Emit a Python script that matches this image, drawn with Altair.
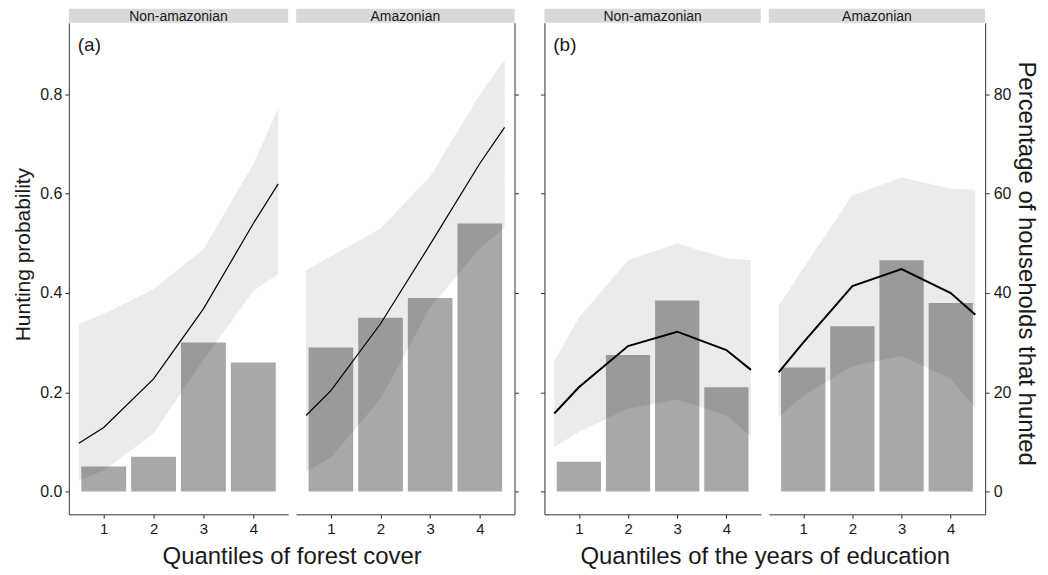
import altair as alt
import pandas as pd

FONT = "Liberation Sans"

# ---------------- data ----------------
QUANTILES = [1, 2, 3, 4]
X_POS = [0.5, 1, 2, 3, 4, 4.5]          # points of the fitted curve / ribbon

# (a) forest cover, Non-amazonian
A_NON_BARS = [0.05, 0.07, 0.30, 0.26]
A_NON_FIT = [0.097, 0.129, 0.227, 0.368, 0.54, 0.62]
A_NON_LO = [0.022, 0.042, 0.117, 0.265, 0.404, 0.438]
A_NON_HI = [0.338, 0.358, 0.408, 0.488, 0.66, 0.772]

# (a) forest cover, Amazonian
A_AMZ_BARS = [0.29, 0.35, 0.39, 0.54]
A_AMZ_FIT = [0.153, 0.203, 0.338, 0.498, 0.661, 0.734]
A_AMZ_LO = [0.04, 0.068, 0.187, 0.37, 0.49, 0.531]
A_AMZ_HI = [0.446, 0.474, 0.53, 0.635, 0.80, 0.87]

# (b) years of education, Non-amazonian
B_NON_BARS = [0.06, 0.275, 0.385, 0.21]
B_NON_FIT = [0.157, 0.21, 0.293, 0.322, 0.285, 0.245]
B_NON_LO = [0.089, 0.12, 0.167, 0.185, 0.153, 0.11]
B_NON_HI = [0.263, 0.35, 0.466, 0.50, 0.47, 0.466]

# (b) years of education, Amazonian
B_AMZ_BARS = [0.25, 0.333, 0.466, 0.38]
B_AMZ_FIT = [0.24, 0.30, 0.414, 0.448, 0.40, 0.356]
B_AMZ_LO = [0.149, 0.193, 0.253, 0.273, 0.227, 0.167]
B_AMZ_HI = [0.374, 0.45, 0.597, 0.633, 0.61, 0.608]

Y_TICKS = [0, 0.2, 0.4, 0.6, 0.8]
STRIPS = ["Non-amazonian", "Amazonian"]
X_TITLES = ["Quantiles of forest cover", "Quantiles of the years of education"]

# ---------------- styling ----------------
H = 493
WA1, WA2, WB = 220, 219, 217
GAP = 8
PANEL_GAP = 30
Y_DOMAIN = [-0.0462, 0.9447]
X_DOMAIN = [0.3, 4.7]
AXIS_COLOR = "#333333"
TEXT_COLOR = "#1a1a1a"
TITLE_SIZE = 24


def x_axis(title=None, title_x=None):
    kw = dict(values=QUANTILES, format="d", grid=False,
              tickSize=4, labelFontSize=15, labelPadding=3,
              domainColor=AXIS_COLOR, tickColor=AXIS_COLOR,
              labelColor=TEXT_COLOR, labelFont=FONT)
    if title:
        return alt.Axis(title=title, titleX=title_x, titleAlign="center",
                        titleFontSize=TITLE_SIZE, titleFontWeight="normal",
                        titleFont=FONT, titleColor=TEXT_COLOR,
                        titlePadding=8, **kw)
    return alt.Axis(title=None, **kw)


def y_axis(kind):
    common = dict(values=Y_TICKS, grid=False, tickSize=4,
                  domainColor=AXIS_COLOR, tickColor=AXIS_COLOR,
                  labelColor=TEXT_COLOR, labelFont=FONT, titleFont=FONT,
                  titleColor=TEXT_COLOR, titleFontWeight="normal")
    if kind == "left_labels":
        return alt.Axis(orient="left", format=".1f", title="Hunting probability",
                        labelFontSize=16, labelPadding=3,
                        titleFontSize=21, titlePadding=6, titleY=232, **common)
    if kind == "right_ticks":
        return alt.Axis(orient="right", labels=False, title=None, **common)
    if kind == "left_ticks":
        return alt.Axis(orient="left", labels=False, title=None, **common)
    return alt.Axis(orient="right", labelExpr="format(datum.value * 100, 'd')",
                    title="Percentage of households that hunted",
                    labelFontSize=16, labelPadding=4,
                    titleFontSize=TITLE_SIZE, titlePadding=3, titleY=241,
                    **common)


def facet(bars, fit, lo, hi, strip, width, ykind, label=None, lw=1.2,
          xtitle=None, xtitle_x=None):
    bdf = pd.DataFrame({"q": QUANTILES, "v": bars})
    cdf = pd.DataFrame({"x": X_POS, "fit": fit, "lo": lo, "hi": hi})
    xs = alt.Scale(domain=X_DOMAIN, nice=False, zero=False)
    ys = alt.Scale(domain=Y_DOMAIN, nice=False, zero=False)
    xa = x_axis(xtitle, xtitle_x)
    ya = y_axis(ykind)

    bar = (alt.Chart(bdf)
           .transform_calculate(x1="datum.q - 0.45", x2="datum.q + 0.45")
           .mark_rect(color="#a8a8a8")
           .encode(x=alt.X("x1:Q", scale=xs, axis=xa), x2="x2:Q",
                   y=alt.Y("v:Q", scale=ys, axis=ya), y2=alt.datum(0)))
    ribbon = (alt.Chart(cdf)
              .mark_area(color="black", opacity=0.08)
              .encode(x=alt.X("x:Q", scale=xs, axis=xa),
                      y=alt.Y("lo:Q", scale=ys, axis=ya), y2="hi:Q"))
    line = (alt.Chart(cdf)
            .mark_line(color="black", strokeWidth=lw)
            .encode(x=alt.X("x:Q", scale=xs, axis=xa),
                    y=alt.Y("fit:Q", scale=ys, axis=ya)))
    sdf = pd.DataFrame({"s": [strip]})
    strip_bg = (alt.Chart(sdf).mark_rect(color="#d9d9d9")
                .encode(x=alt.value(0), x2=alt.value(width),
                        y=alt.value(-14), y2=alt.value(0)))
    strip_txt = (alt.Chart(sdf)
                 .mark_text(font=FONT, fontSize=14, color=TEXT_COLOR,
                            align="center", baseline="alphabetic")
                 .encode(x=alt.value(width / 2), y=alt.value(-2), text="s:N"))
    layers = [bar, ribbon, line, strip_bg, strip_txt]
    if label:
        ldf = pd.DataFrame({"t": [label], "x": [0.48], "y": [0.90]})
        layers.append(alt.Chart(ldf)
                      .mark_text(font=FONT, fontSize=19, color=TEXT_COLOR,
                                 align="left", baseline="middle")
                      .encode(x=alt.X("x:Q", scale=xs, axis=xa),
                              y=alt.Y("y:Q", scale=ys, axis=ya), text="t:N"))
    return alt.layer(*layers).properties(width=width, height=H)


a1 = facet(A_NON_BARS, A_NON_FIT, A_NON_LO, A_NON_HI, STRIPS[0], WA1,
           "left_labels", label="(a)", lw=1.2,
           xtitle=X_TITLES[0], xtitle_x=(WA1 + WA2 + GAP) / 2)
a2 = facet(A_AMZ_BARS, A_AMZ_FIT, A_AMZ_LO, A_AMZ_HI, STRIPS[1], WA2,
           "right_ticks", lw=1.2)
b1 = facet(B_NON_BARS, B_NON_FIT, B_NON_LO, B_NON_HI, STRIPS[0], WB,
           "left_ticks", label="(b)", lw=2,
           xtitle=X_TITLES[1], xtitle_x=(2 * WB + GAP) / 2)
b2 = facet(B_AMZ_BARS, B_AMZ_FIT, B_AMZ_LO, B_AMZ_HI, STRIPS[1], WB,
           "right_labels", lw=2)

# empty spacer so that the gap between panels (a) and (b) is wider
spacer = (alt.Chart(pd.DataFrame({"s": [0]}))
          .mark_rect(opacity=0)
          .encode(x=alt.value(0))
          .properties(width=PANEL_GAP - 2 * GAP, height=H))

chart = (alt.hconcat(a1, a2, spacer, b1, b2, spacing=GAP, bounds="flush")
         .properties(padding={"left": 4, "top": 0, "right": 2, "bottom": 0},
                     background="white")
         .configure_view(stroke=None, strokeWidth=0))

chart.save("out.html", embed_options={"renderer": "svg", "actions": False})
